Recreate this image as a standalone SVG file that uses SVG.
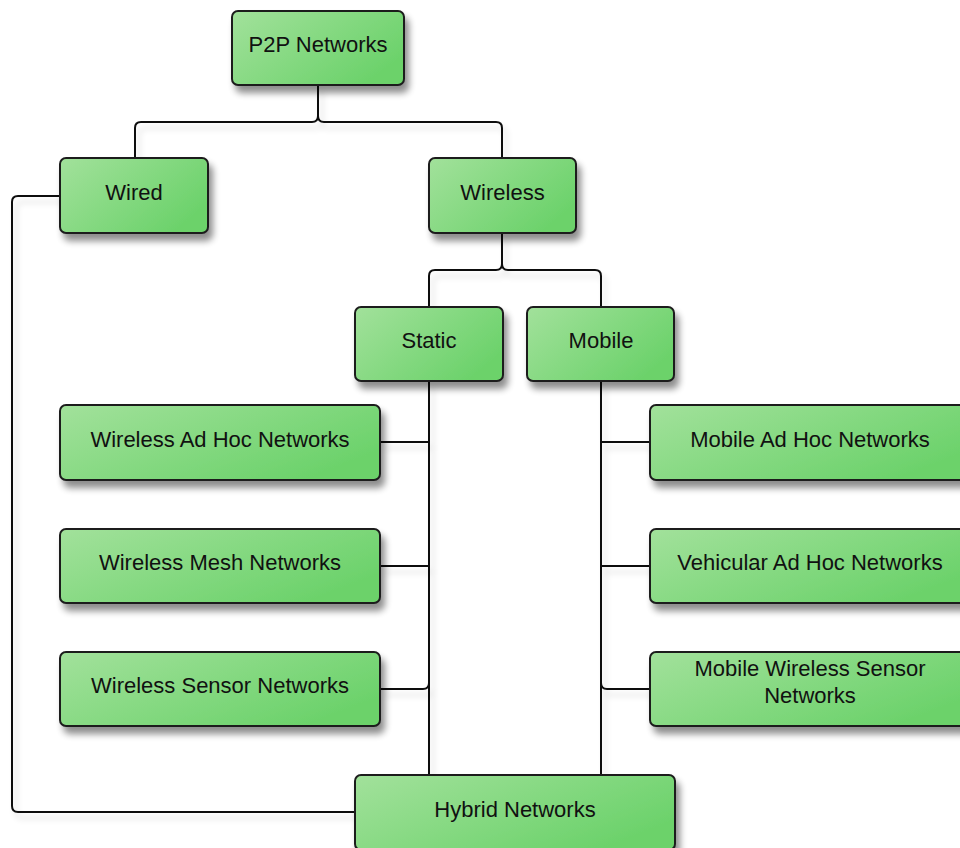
<svg xmlns="http://www.w3.org/2000/svg" width="960" height="848" viewBox="0 0 960 848">
<defs>
<linearGradient id="g" x1="0" y1="0" x2="1" y2="0.6">
<stop offset="0" stop-color="#a2e19b"/>
<stop offset="1" stop-color="#6cd26b"/>
</linearGradient>
<filter id="sh" x="-10%" y="-20%" width="130%" height="160%">
<feGaussianBlur in="SourceAlpha" stdDeviation="3.5"/>
<feOffset dx="4" dy="7" result="b"/>
<feComponentTransfer><feFuncA type="linear" slope="0.45"/></feComponentTransfer>
<feMerge><feMergeNode/><feMergeNode in="SourceGraphic"/></feMerge>
</filter>
<filter id="lsh" x="-20%" y="-20%" width="140%" height="140%">
<feGaussianBlur in="SourceAlpha" stdDeviation="3"/>
<feOffset dx="4" dy="6" result="b"/>
<feComponentTransfer><feFuncA type="linear" slope="0.15"/></feComponentTransfer>
<feMerge><feMergeNode/><feMergeNode in="SourceGraphic"/></feMerge>
</filter>
</defs>
<style>
.box{fill:url(#g);stroke:#1c1c1c;stroke-width:2;filter:url(#sh)}
.t{font-family:"Liberation Sans",Arial,sans-serif;font-size:22px;fill:#111;text-anchor:middle}
.c{fill:none;stroke:#111;stroke-width:2}
</style>
<rect width="960" height="848" fill="#fff"/>
<g id="connectors" filter="url(#lsh)">
<path class="c" d="M318,85 V116 Q318,122 312,122 H141 Q135,122 135,128 V158"/>
<path class="c" d="M318,85 V116 Q318,122 324,122 H496 Q502,122 502,128 V158"/>
<path class="c" d="M502,233 V264 Q502,270 496,270 H435 Q429,270 429,276 V307"/>
<path class="c" d="M502,233 V264 Q502,270 508,270 H595 Q601,270 601,276 V307"/>
<path class="c" d="M429,381 V775"/>
<path class="c" d="M429,442 H380"/>
<path class="c" d="M429,566 H380"/>
<path class="c" d="M429,683 Q429,689 423,689 H380"/>
<path class="c" d="M601,381 V775"/>
<path class="c" d="M601,442 H650"/>
<path class="c" d="M601,566 H650"/>
<path class="c" d="M601,683 Q601,689 607,689 H650"/>
<path class="c" d="M60,196 H18 Q12,196 12,202 V806 Q12,812 18,812 H355"/>
</g>
<g id="p2p"><rect class="box" x="232" y="11" width="172" height="74" rx="6"/><text class="t" x="318" y="52">P2P Networks</text></g>
<g id="wired"><rect class="box" x="60" y="158" width="148" height="75" rx="6"/><text class="t" x="134" y="200">Wired</text></g>
<g id="wireless"><rect class="box" x="429" y="158" width="147" height="75" rx="6"/><text class="t" x="502.5" y="200">Wireless</text></g>
<g id="static"><rect class="box" x="355" y="307" width="148" height="74" rx="6"/><text class="t" x="429" y="348">Static</text></g>
<g id="mobile"><rect class="box" x="527" y="307" width="147" height="74" rx="6"/><text class="t" x="601" y="348">Mobile</text></g>
<g id="wahn"><rect class="box" x="60" y="405" width="320" height="75" rx="6"/><text class="t" x="220" y="447">Wireless Ad Hoc Networks</text></g>
<g id="wmn"><rect class="box" x="60" y="529" width="320" height="74" rx="6"/><text class="t" x="220" y="570">Wireless Mesh Networks</text></g>
<g id="wsn"><rect class="box" x="60" y="652" width="320" height="74" rx="6"/><text class="t" x="220" y="693">Wireless Sensor Networks</text></g>
<g id="mahn"><rect class="box" x="650" y="405" width="320" height="75" rx="6"/><text class="t" x="810" y="447">Mobile Ad Hoc Networks</text></g>
<g id="vahn"><rect class="box" x="650" y="529" width="320" height="74" rx="6"/><text class="t" x="810" y="570">Vehicular Ad Hoc Networks</text></g>
<g id="mwsn"><rect class="box" x="650" y="652" width="320" height="74" rx="6"/><text class="t" x="810" y="676">Mobile Wireless Sensor</text><text class="t" x="810" y="703">Networks</text></g>
<g id="hybrid"><rect class="box" x="355" y="775" width="320" height="75" rx="6"/><text class="t" x="515" y="817">Hybrid Networks</text></g>
</svg>
